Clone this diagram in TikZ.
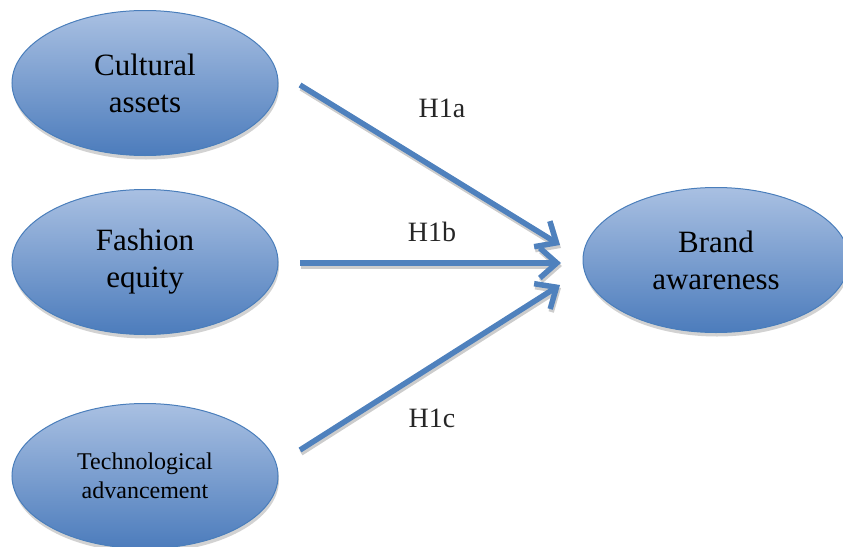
\documentclass[tikz,border=0pt]{standalone}
\usepackage{fontspec}
\setmainfont{Liberation Serif}
\usetikzlibrary{shapes.geometric,shadows,arrows.meta}
\definecolor{topblue}{HTML}{A9C0E2}
\definecolor{botblue}{HTML}{4C7CBC}
\definecolor{edgeblue}{HTML}{4A7EBB}
\definecolor{arrowblue}{HTML}{4F81BD}
\tikzset{
  construct/.style={ellipse, draw=edgeblue, line width=1pt, top color=topblue, bottom color=botblue,
    minimum width=266pt, minimum height=145pt, inner sep=0pt, align=center,
    font=\fontsize{31}{37}\selectfont,
    drop shadow={shadow xshift=1pt, shadow yshift=-4pt, fill=black!25, opacity=0.7}},
  path arrow/.style={draw=arrowblue, line width=5.5pt, -{Straight Barb[length=17pt,width=30pt,line width=5.5pt]},
    preaction={draw=black!20, line width=5.5pt, transform canvas={xshift=1pt,yshift=-3pt}, -{Straight Barb[length=17pt,width=30pt,line width=5.5pt]}}},
  hyp/.style={font=\fontsize{28}{32}\selectfont, text=black!85}
}
\begin{document}
\begin{tikzpicture}[x=1pt,y=-1pt]
\useasboundingbox (0,0) rectangle (843,546);
\node[construct] (ca) at (145,83) {Cultural\\assets};
\node[construct] (fe) at (145,262) {Fashion\\equity};
\node[construct, font=\fontsize{24}{29}\selectfont] (ta) at (145,476) {Technological\\advancement};
\node[construct] (ba) at (716,260) {Brand\\awareness};
\coordinate (s1) at (300,85);
\coordinate (s2) at (300,263);
\coordinate (s3) at (300,450);
\coordinate (e1) at (560,245);
\coordinate (e2) at (561,263);
\coordinate (e3) at (560,285);
\path[path arrow] (s1) -- (e1);
\path[path arrow] (s2) -- (e2);
\path[path arrow] (s3) -- (e3);
\node[hyp] (h1a) at (442,108) {H1a};
\node[hyp] (h1b) at (432,232) {H1b};
\node[hyp] (h1c) at (432,418) {H1c};
\end{tikzpicture}
\end{document}
